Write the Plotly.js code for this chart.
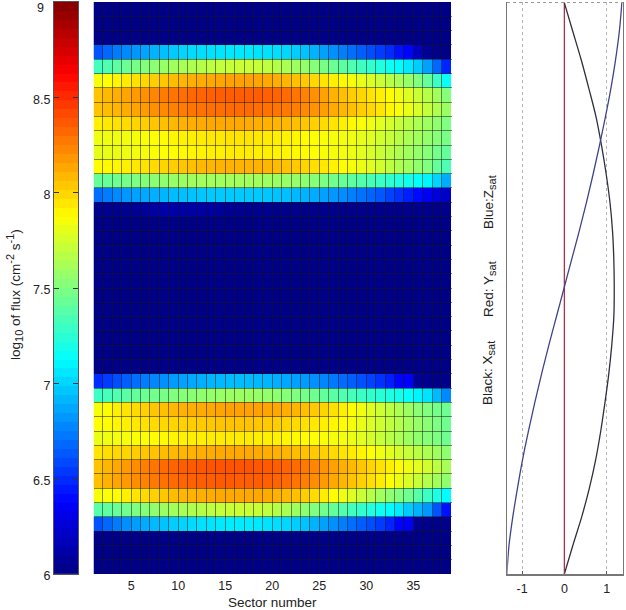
<!DOCTYPE html>
<html>
<head>
<meta charset="utf-8">
<script src="https://cdn.plot.ly/plotly-3.0.1.min.js"></script>
<style>
  html, body { margin: 0; padding: 0; background: #fff; }
  #plot { width: 626px; height: 610px; }
</style>
</head>
<body>
<div id="plot"></div>
<script>
// Flux per row (38 sectors, top of the plot first)
const quiet = [6.02,6.02,6.02,6.02,6.02,6.02,6.02,6.02,6.02,6.02,6.02,6.02,6.02,6.02,6.02,6.02,6.02,6.02,6.02,6.02,6.02,6.02,6.02,6.02,6.02,6.02,6.02,6.02,6.02,6.02,6.02,6.02,6.02,6.02,6.02,6.02,6.02,6.02];
const row03 = [6.62,6.68,6.74,6.78,6.82,6.86,6.9,6.94,6.97,7.0,7.02,7.03,7.04,7.05,7.06,7.06,7.06,7.05,7.04,7.03,7.01,6.98,6.95,6.9,6.85,6.8,6.75,6.7,6.65,6.6,6.55,6.5,6.42,6.38,6.18,6.06,6.03,6.02];
const row04 = [7.32,7.36,7.4,7.44,7.48,7.51,7.54,7.57,7.6,7.62,7.64,7.66,7.68,7.7,7.71,7.72,7.72,7.71,7.69,7.66,7.63,7.59,7.56,7.52,7.48,7.44,7.4,7.36,7.31,7.27,7.22,7.17,7.12,7.06,6.98,6.85,6.68,6.48];
const row05 = [7.85,7.87,7.9,7.93,7.96,7.99,8.02,8.04,8.07,8.09,8.11,8.12,8.13,8.14,8.15,8.15,8.15,8.14,8.13,8.11,8.09,8.06,8.03,7.99,7.95,7.92,7.89,7.85,7.81,7.77,7.72,7.67,7.62,7.57,7.5,7.42,7.3,7.15];
const row06 = [8.05,8.08,8.11,8.14,8.17,8.2,8.23,8.26,8.28,8.3,8.32,8.33,8.34,8.35,8.35,8.35,8.35,8.35,8.34,8.33,8.31,8.28,8.24,8.2,8.15,8.1,8.06,8.02,7.99,7.95,7.92,7.88,7.83,7.78,7.72,7.66,7.6,7.52];
const row07 = [8.05,8.07,8.09,8.12,8.14,8.17,8.2,8.22,8.24,8.26,8.28,8.29,8.3,8.3,8.31,8.31,8.31,8.3,8.29,8.28,8.27,8.25,8.22,8.19,8.16,8.12,8.09,8.06,8.02,7.99,7.95,7.9,7.86,7.81,7.76,7.7,7.64,7.58];
const row08 = [7.92,7.94,7.96,7.98,8.0,8.02,8.04,8.06,8.08,8.1,8.11,8.12,8.13,8.13,8.13,8.13,8.12,8.11,8.1,8.09,8.08,8.06,8.04,8.01,7.98,7.95,7.92,7.89,7.86,7.83,7.79,7.75,7.71,7.67,7.63,7.59,7.55,7.5];
const row09 = [7.83,7.83,7.83,7.84,7.85,7.86,7.87,7.88,7.9,7.91,7.92,7.93,7.94,7.94,7.95,7.95,7.95,7.94,7.93,7.92,7.91,7.9,7.88,7.87,7.86,7.85,7.84,7.83,7.8,7.78,7.74,7.71,7.67,7.63,7.6,7.56,7.52,7.48];
const row10 = [7.8,7.81,7.82,7.83,7.84,7.85,7.86,7.87,7.88,7.89,7.9,7.91,7.92,7.92,7.93,7.93,7.93,7.92,7.92,7.91,7.9,7.89,7.88,7.87,7.86,7.85,7.84,7.82,7.79,7.76,7.72,7.68,7.64,7.6,7.56,7.52,7.47,7.42];
const row11 = [7.88,7.89,7.9,7.92,7.94,7.96,7.98,8.0,8.02,8.04,8.06,8.08,8.09,8.1,8.1,8.1,8.1,8.1,8.09,8.07,8.05,8.03,8.0,7.97,7.94,7.91,7.88,7.85,7.82,7.78,7.74,7.69,7.64,7.6,7.55,7.5,7.42,7.35];
const row12 = [7.42,7.43,7.45,7.47,7.49,7.51,7.53,7.55,7.57,7.58,7.59,7.6,7.6,7.6,7.6,7.6,7.6,7.6,7.59,7.58,7.57,7.56,7.54,7.52,7.49,7.46,7.43,7.4,7.37,7.34,7.3,7.26,7.22,7.18,7.14,7.1,7.0,6.88];
const row13 = [6.7,6.74,6.78,6.82,6.85,6.87,6.89,6.91,6.93,6.94,6.95,6.96,6.97,6.97,6.97,6.97,6.97,6.97,6.96,6.95,6.94,6.92,6.9,6.88,6.85,6.82,6.79,6.75,6.71,6.67,6.63,6.57,6.52,6.46,6.4,6.34,6.28,6.22];
const row14 = [6.04,6.04,6.04,6.05,6.06,6.09,6.11,6.12,6.12,6.12,6.12,6.11,6.1,6.08,6.06,6.05,6.04,6.04,6.04,6.04,6.03,6.03,6.03,6.03,6.03,6.03,6.03,6.03,6.03,6.03,6.03,6.03,6.03,6.03,6.03,6.03,6.03,6.03];
const row26 = [6.5,6.55,6.6,6.65,6.7,6.74,6.77,6.8,6.83,6.85,6.87,6.89,6.91,6.92,6.93,6.93,6.93,6.92,6.91,6.89,6.87,6.85,6.83,6.8,6.77,6.73,6.69,6.65,6.61,6.57,6.52,6.46,6.38,6.36,6.06,6.04,6.03,6.03];
const row27 = [7.3,7.33,7.36,7.39,7.42,7.44,7.46,7.48,7.5,7.52,7.53,7.55,7.56,7.57,7.58,7.58,7.58,7.57,7.56,7.54,7.52,7.5,7.47,7.45,7.42,7.39,7.36,7.33,7.3,7.27,7.24,7.21,7.18,7.14,7.1,7.05,6.92,6.78];
const row28 = [7.85,7.88,7.92,7.95,7.98,8.01,8.04,8.06,8.08,8.1,8.11,8.12,8.13,8.14,8.15,8.15,8.15,8.15,8.14,8.13,8.11,8.09,8.06,8.03,8.0,7.96,7.92,7.88,7.83,7.78,7.73,7.68,7.63,7.58,7.53,7.5,7.47,7.45];
const row29 = [7.87,7.88,7.9,7.92,7.94,7.96,7.98,7.99,8.0,8.01,8.02,8.03,8.04,8.05,8.05,8.05,8.05,8.04,8.03,8.02,8.0,7.98,7.96,7.94,7.92,7.9,7.88,7.85,7.81,7.77,7.73,7.69,7.65,7.61,7.57,7.53,7.49,7.45];
const row30 = [7.82,7.83,7.84,7.85,7.86,7.87,7.88,7.89,7.9,7.91,7.92,7.92,7.93,7.93,7.93,7.93,7.93,7.92,7.92,7.91,7.9,7.89,7.88,7.87,7.86,7.85,7.84,7.82,7.79,7.75,7.71,7.67,7.63,7.59,7.55,7.52,7.49,7.45];
const row31 = [7.95,7.97,7.99,8.0,8.02,8.04,8.05,8.07,8.08,8.09,8.1,8.11,8.12,8.13,8.13,8.13,8.13,8.12,8.11,8.1,8.09,8.07,8.05,8.03,8.01,7.98,7.95,7.93,7.9,7.87,7.83,7.79,7.75,7.71,7.67,7.63,7.59,7.55];
const row32 = [8.05,8.09,8.13,8.17,8.21,8.25,8.28,8.31,8.33,8.35,8.36,8.37,8.38,8.38,8.38,8.38,8.38,8.37,8.36,8.35,8.33,8.31,8.27,8.23,8.19,8.15,8.11,8.08,8.04,8.0,7.96,7.92,7.88,7.83,7.79,7.74,7.68,7.62];
const row33 = [8.06,8.1,8.14,8.17,8.21,8.24,8.27,8.29,8.31,8.33,8.34,8.35,8.35,8.36,8.36,8.35,8.35,8.35,8.34,8.33,8.31,8.28,8.25,8.21,8.17,8.13,8.09,8.05,8.01,7.97,7.93,7.87,7.82,7.77,7.71,7.65,7.6,7.55];
const row34 = [7.85,7.86,7.88,7.92,7.95,7.98,8.01,8.04,8.07,8.09,8.1,8.11,8.12,8.13,8.13,8.13,8.13,8.13,8.12,8.1,8.08,8.06,8.02,7.98,7.93,7.88,7.83,7.78,7.72,7.66,7.6,7.55,7.5,7.45,7.38,7.3,7.2,7.12];
const row35 = [7.38,7.4,7.43,7.46,7.49,7.52,7.55,7.58,7.6,7.62,7.64,7.66,7.68,7.7,7.71,7.72,7.72,7.71,7.69,7.66,7.63,7.59,7.54,7.5,7.46,7.42,7.37,7.32,7.27,7.22,7.17,7.12,7.07,6.97,6.9,6.82,6.62,6.42];
const row36 = [6.62,6.68,6.74,6.8,6.84,6.88,6.92,6.95,6.98,7.0,7.02,7.04,7.05,7.06,7.07,7.07,7.07,7.06,7.05,7.03,7.01,6.98,6.95,6.9,6.85,6.8,6.75,6.7,6.65,6.6,6.55,6.48,6.38,6.34,6.05,6.03,6.03,6.03];

const fluxRows = [quiet, quiet, quiet, row03, row04, row05, row06, row07, row08, row09, row10, row11, row12, row13, row14,
  quiet, quiet, quiet, quiet, quiet, quiet, quiet, quiet, quiet, quiet, quiet,
  row26, row27, row28, row29, row30, row31, row32, row33, row34, row35, row36, quiet, quiet, quiet];

// Colour bar steps (64 levels, like the original colormap)
const barLevels = [6.023,6.070,6.117,6.164,6.211,6.258,6.305,6.352,6.398,6.445,6.492,6.539,6.586,6.633,6.680,6.727,
  6.773,6.820,6.867,6.914,6.961,7.008,7.055,7.102,7.148,7.195,7.242,7.289,7.336,7.383,7.430,7.477,
  7.523,7.570,7.617,7.664,7.711,7.758,7.805,7.852,7.898,7.945,7.992,8.039,8.086,8.133,8.180,8.227,
  8.273,8.320,8.367,8.414,8.461,8.508,8.555,8.602,8.648,8.695,8.742,8.789,8.836,8.883,8.930,8.977];
const barTicks = [6, 6.5, 7, 7.5, 8, 8.5, 9];
const barTickText = ['6', '6.5', '7', '7.5', '8', '8.5', ''];  // the 9 is an annotation, it would be cut at the page top

// Satellite axis components against row position
const rowPos = [0,2,4,6,8,10,12,14,16,18,20,22,24,26,28,30,32,34,36,38,40];
const xSat = [0,0.2,0.4,0.58,0.75,0.88,0.99,1.08,1.14,1.17,1.18,1.17,1.12,1.05,0.96,0.86,0.74,0.59,0.41,0.2,0];
const ySat = [0,0,0,0,0,0,0,0,0,0,0,0,0,0,0,0,0,0,0,0,0];
const zSat = [1.36,1.3,1.21,1.1,0.97,0.83,0.68,0.52,0.35,0.17,-0.01,-0.19,-0.37,-0.54,-0.7,-0.85,-0.99,-1.11,-1.22,-1.31,-1.36];

const jet = [[0, '#000080'], [0.125, '#0000ff'], [0.375, '#00ffff'], [0.625, '#ffff00'], [0.875, '#ff0000'], [1, '#800000']];
const font = { family: 'Liberation Sans, Arial, sans-serif', size: 12.5, color: '#222' };
const W = 626, H = 610;

const traces = [
  {
    type: 'heatmap', z: fluxRows, x0: 1.5, dx: 1, y0: 0.5, dy: 1,
    zmin: 6, zmax: 9, colorscale: jet, showscale: false, xaxis: 'x', yaxis: 'y'
  },
  {
    type: 'heatmap', z: barLevels.map(v => [v]), x0: 0, dx: 1, y: barLevels,
    zmin: 6, zmax: 9, colorscale: jet, showscale: false, xaxis: 'x2', yaxis: 'y2'
  },
  { type: 'scatter', mode: 'lines', x: ySat, y: rowPos, xaxis: 'x3', yaxis: 'y3', line: { color: '#b0304a', width: 1.3 } },
  { type: 'scatter', mode: 'lines', x: xSat, y: rowPos, xaxis: 'x3', yaxis: 'y3', line: { color: '#2f2f3f', width: 1.3, shape: 'spline' } },
  { type: 'scatter', mode: 'lines', x: zSat, y: rowPos, xaxis: 'x3', yaxis: 'y3', line: { color: '#3f4488', width: 1.3, shape: 'spline' } }
];

// Cell edges are long see-through ticks, because ticks sit above the heatmap
const edge = 'rgba(20,20,20,0.5)';

function sideLabel(text, xPx, yPx) {
  return {
    text: text, textangle: -90, showarrow: false,
    xref: 'paper', yref: 'paper', x: xPx / W, y: 1 - yPx / H,
    xanchor: 'center', yanchor: 'middle', font: { size: 13.5 }
  };
}

const layout = {
  width: W, height: H,
  margin: { l: 0, r: 0, t: 0, b: 0 },
  paper_bgcolor: '#fff', plot_bgcolor: '#fff',
  font: font,
  showlegend: false,
  xaxis: {
    domain: [93.5 / W, 451 / W], range: [1, 39], anchor: 'y',
    tick0: 5, dtick: 5, ticks: 'inside', ticklen: 572, tickcolor: edge, tickwidth: 1,
    minor: { dtick: 1, ticks: 'inside', ticklen: 572, tickcolor: edge, tickwidth: 1 },
    ticklabelstandoff: 2,
    showgrid: false, zeroline: false, showline: false,
    title: { text: 'Sector number', font: { size: 13.5 }, standoff: 8 }
  },
  yaxis: {
    domain: [36 / H, 608 / H], range: [40, 0], anchor: 'x',
    dtick: 1, ticks: 'inside', ticklen: 358, tickcolor: edge, tickwidth: 1,
    showticklabels: false, showgrid: false, zeroline: false, showline: false
  },
  xaxis2: {
    domain: [54 / W, 78 / W], range: [-0.5, 0.5], anchor: 'y2',
    showticklabels: false, ticks: '', showgrid: false, zeroline: false,
    showline: true, mirror: true, linecolor: '#555', linewidth: 1
  },
  yaxis2: {
    domain: [36 / H, 608 / H], range: [6, 9], anchor: 'x2',
    tickvals: barTicks, ticktext: barTickText, ticklabelshift: 2,
    ticks: 'inside', ticklen: 5, tickcolor: '#333', showgrid: false, zeroline: false,
    showline: true, mirror: 'ticks', linecolor: '#555', linewidth: 1
  },
  xaxis3: {
    domain: [507.3 / W, 622.7 / W], range: [-1.35, 1.38], anchor: 'y3',
    tickvals: [-1, 0, 1], ticktext: ['-1', '0', '1'], ticklabelstandoff: 2,
    ticks: 'inside', ticklen: 3, tickcolor: '#555',
    showgrid: true, gridcolor: '#b5b5b5', griddash: 'dot', gridwidth: 1, zeroline: false,
    showline: true, linecolor: '#777', linewidth: 1.5
  },
  yaxis3: {
    // range runs a bit past 0 so the dotted line along the top is kept
    domain: [36 / H, 608.5 / H], range: [40, -0.1], anchor: 'x3',
    tickvals: [0], showticklabels: false, ticks: '',
    showgrid: true, gridcolor: '#999', griddash: 'dot', gridwidth: 1, zeroline: false,
    showline: true, mirror: true, linecolor: '#777', linewidth: 1.5
  },
  annotations: [
    sideLabel('log<sub><span style="font-size:11px">10</span></sub> of flux (cm<sup><span style="font-size:11px">-2</span></sup> s<sup><span style="font-size:11px">-1</span></sup>)', 14, 295),
    sideLabel('Blue:Z<sub><span style="font-size:11px">sat</span></sub>', 489, 202),
    sideLabel('Red: Y<sub><span style="font-size:11px">sat</span></sub>', 489, 289),
    sideLabel('Black: X<sub><span style="font-size:11px">sat</span></sub>', 489, 373),
    { text: '9', showarrow: false, xref: 'paper', yref: 'paper', x: 46.5 / W, y: 1 - 8 / H,
      xanchor: 'right', yanchor: 'middle', font: { size: 12.5 } }
  ]
};

Plotly.newPlot('plot', traces, layout, { displayModeBar: false, staticPlot: true });
</script>
</body>
</html>
